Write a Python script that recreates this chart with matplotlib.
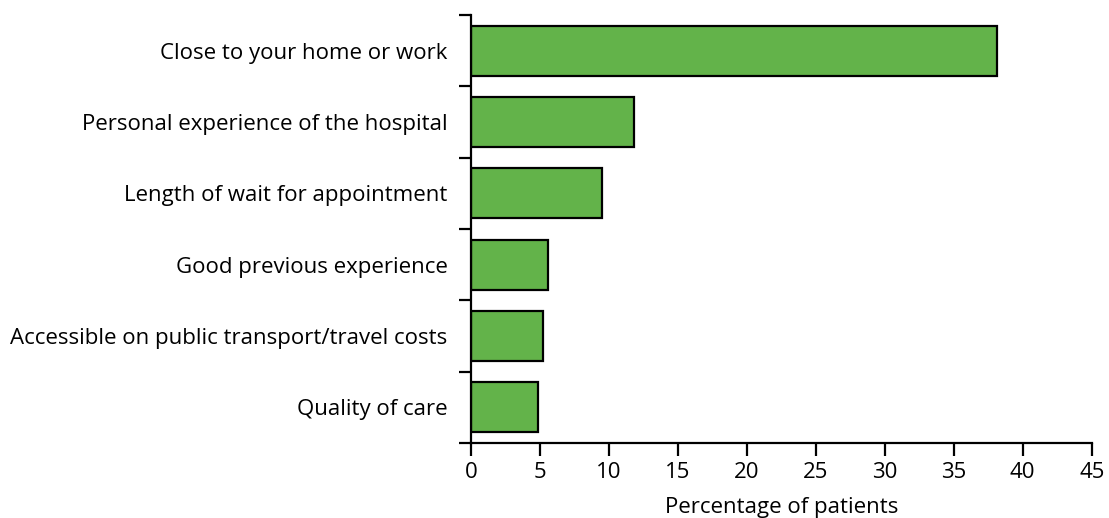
import numpy as np
import matplotlib.pyplot as plt

# reasons for choosing the hospital, top to bottom
reasons = ['Close to your home or work',
           'Personal experience of the hospital',
           'Length of wait for appointment',
           'Good previous experience',
           'Accessible on public transport/travel costs',
           'Quality of care']
percent = [38.1, 11.85, 9.5, 5.6, 5.2, 4.85]
xticks = [0, 5, 10, 15, 20, 25, 30, 35, 40, 45]

plt.rcParams['font.family'] = ['Open Sans', 'DejaVu Sans']

fig = plt.figure(figsize=(11.09, 5.18), dpi=100)
ax = fig.add_axes([0.4247, 0.1448, 0.5597, 0.8262])

y = np.arange(len(reasons))[::-1]
ax.barh(y, percent, height=0.7, color='#63b34a', edgecolor='black', linewidth=1.6)

ax.set_xlim(0, 45)
ax.set_ylim(-0.5, len(reasons) - 0.5)
ax.set_xticks(xticks)
ax.set_yticks(y)
ax.set_yticklabels(reasons)
ax.set_yticks(np.arange(len(reasons) + 1) - 0.5, minor=True)
ax.tick_params(axis='y', which='major', length=0, pad=17, labelsize=16)
ax.tick_params(axis='y', which='minor', length=9, width=1.6, direction='out')
ax.tick_params(axis='x', length=9, width=1.6, labelsize=16, pad=5)
ax.spines['top'].set_visible(False)
ax.spines['right'].set_visible(False)
ax.spines['left'].set_linewidth(1.6)
ax.spines['bottom'].set_linewidth(1.6)
ax.set_xlabel('Percentage of patients', fontsize=16, labelpad=10)

fig.savefig('out.png', dpi=100)
